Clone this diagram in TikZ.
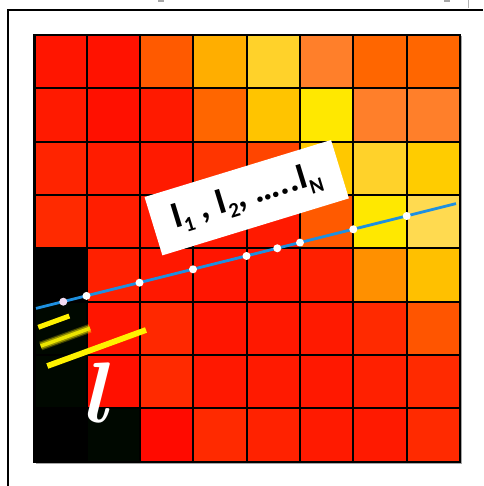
\documentclass[tikz,border=0pt]{standalone}
\usepackage{fontspec}
\usepackage{graphicx}
\newfontfamily\lblfont{Carlito}
\tikzset{
  gridline/.style={line width=2pt, black},
  blueline/.style={line width=2.8pt, color={rgb,255:red,30;green,144;blue,224}},
  dotw/.style={circle, fill=white, inner sep=0pt, minimum size=8pt},
  dotp/.style={circle, fill={rgb,255:red,242;green,220;blue,242}, inner sep=0pt, minimum size=8pt},
  yline/.style={line width=5pt, color={rgb,255:red,255;green,242;blue,0}},
  framel/.style={line width=1.6pt, black},
  labelbox/.style={fill=white, rotate=17, minimum width=195pt, minimum height=61pt, inner sep=0pt,
    font=\lblfont\bfseries\fontsize{37}{37}\selectfont}
}
\newcommand\sbs[1]{\raisebox{-0.2em}{\fontsize{21}{21}\selectfont #1}}
\newcommand\cellrow[2]{%
  \foreach \c [count=\i from 0] in {#2} {
    \pgfmathsetmacro\xa{{34.5,86.5,139.5,193,246.5,300,353.3,406.7,460}[\i]}
    \pgfmathsetmacro\xb{{34.5,86.5,139.5,193,246.5,300,353.3,406.7,460}[\i+1]}
    \pgfmathsetmacro\ya{35+53.33*#1}
    \pgfmathsetmacro\yb{35+53.33*(#1+1)}
    \definecolor{cc}{HTML}{\c}
    \fill[cc] (\xa,\ya) rectangle (\xb,\yb);
  }}
\begin{document}
\begin{tikzpicture}[x=1pt,y=-1pt]
\useasboundingbox (0,0) rectangle (483,486);
\fill[white] (0,0) rectangle (483,486);
% outer frame
\coordinate (f1) at (8,486);
\coordinate (f2) at (8,10);
\coordinate (f3) at (483,10);
\draw[framel] (f1) -- (f2) -- (f3);
% small artefacts at the top
\draw[line width=0.8pt, color=black!30] (468,0) -- (468,8);
\fill[black!35] (158,0) rectangle (164,1.6);
\fill[black!35] (444,0) rectangle (450,1.6);
% cells
\cellrow{0}{FF1500,FF1200,FF5A00,FFAE00,FFD22A,FF7F2A,FF6600,FF6600}
\cellrow{1}{FF1A00,FF1000,FF1A00,FF6600,FFC400,FFE800,FF7F2A,FF7F2A}
\cellrow{2}{FF2400,FF1C00,FF1A00,FF3500,FF4500,FFC800,FFD22A,FFCC00}
\cellrow{3}{FF2A00,FF1E00,FF1A00,FF1800,FF1A00,FF5A00,FFE800,FFDA50}
\cellrow{4}{000000,FF2000,FF1800,FF1500,FF1800,FF2000,FF9000,FFC000}
\cellrow{5}{000800,FF1500,FF2800,FF1500,FF1800,FF1A00,FF2A00,FF5500}
\cellrow{6}{000800,FF1000,FF2A00,FF1800,FF1A00,FF1800,FF2000,FF2A00}
\cellrow{7}{000000,000800,FF0A00,FF2A00,FF2200,FF1A00,FF1A00,FF2A00}
% grid
\foreach \x in {86.5,139.5,193,246.5,300,353.3,406.7}
  \draw[gridline] (\x,35) -- (\x,461.7);
\foreach \y in {88.3,141.7,195,248.3,301.7,355,408.3}
  \draw[gridline] (34.5,\y) -- (460,\y);
\draw[line width=1.5pt, black!35] (36,463.3) -- (461.5,463.3) -- (461.5,36);
\draw[line width=2.2pt, black] (34.5,35) rectangle (460,461.7);
% label
\node[labelbox] (lbl) at (246.7,197.7) {I\sbs{1} , I\sbs{2}, …..I\sbs{N}};
% blue line with dots
\coordinate (bs) at (36,308.4);
\coordinate (be) at (456,203.6);
\draw[blueline] (bs) -- (be);
\node[dotp] (d0) at (63.3,301.7) {};
\foreach \x [count=\k] in {86.5,139.5,193,246.5,277.3,300,353.3,406.7}
  \node[dotw] (d\k) at (\x,{301.7-0.2496*(\x-63.3)}) {};
% yellow lines
\coordinate (y1a) at (38.3,327.3);
\coordinate (y1b) at (69.3,316);
\coordinate (y2a) at (40.7,346);
\coordinate (y2b) at (90,328.3);
\coordinate (y3a) at (47.3,366);
\coordinate (y3b) at (146,330);
\draw[yline] (y1a) -- (y1b);
\draw[yline, line width=9pt, opacity=0.25] (y2a) -- (y2b);
\draw[yline, line width=6.5pt, opacity=0.45] (y2a) -- (y2b);
\draw[yline, line width=3.5pt, color={rgb,255:red,235;green,228;blue,0}] (y2a) -- (y2b);
\draw[yline, line width=5.8pt] (y3a) -- (y3b);
% italic l
\node[anchor=base, inner sep=0pt, text=white] (ell) at (101,422) {\scalebox{8.6}{\boldmath$l$}};
\end{tikzpicture}
\end{document}
